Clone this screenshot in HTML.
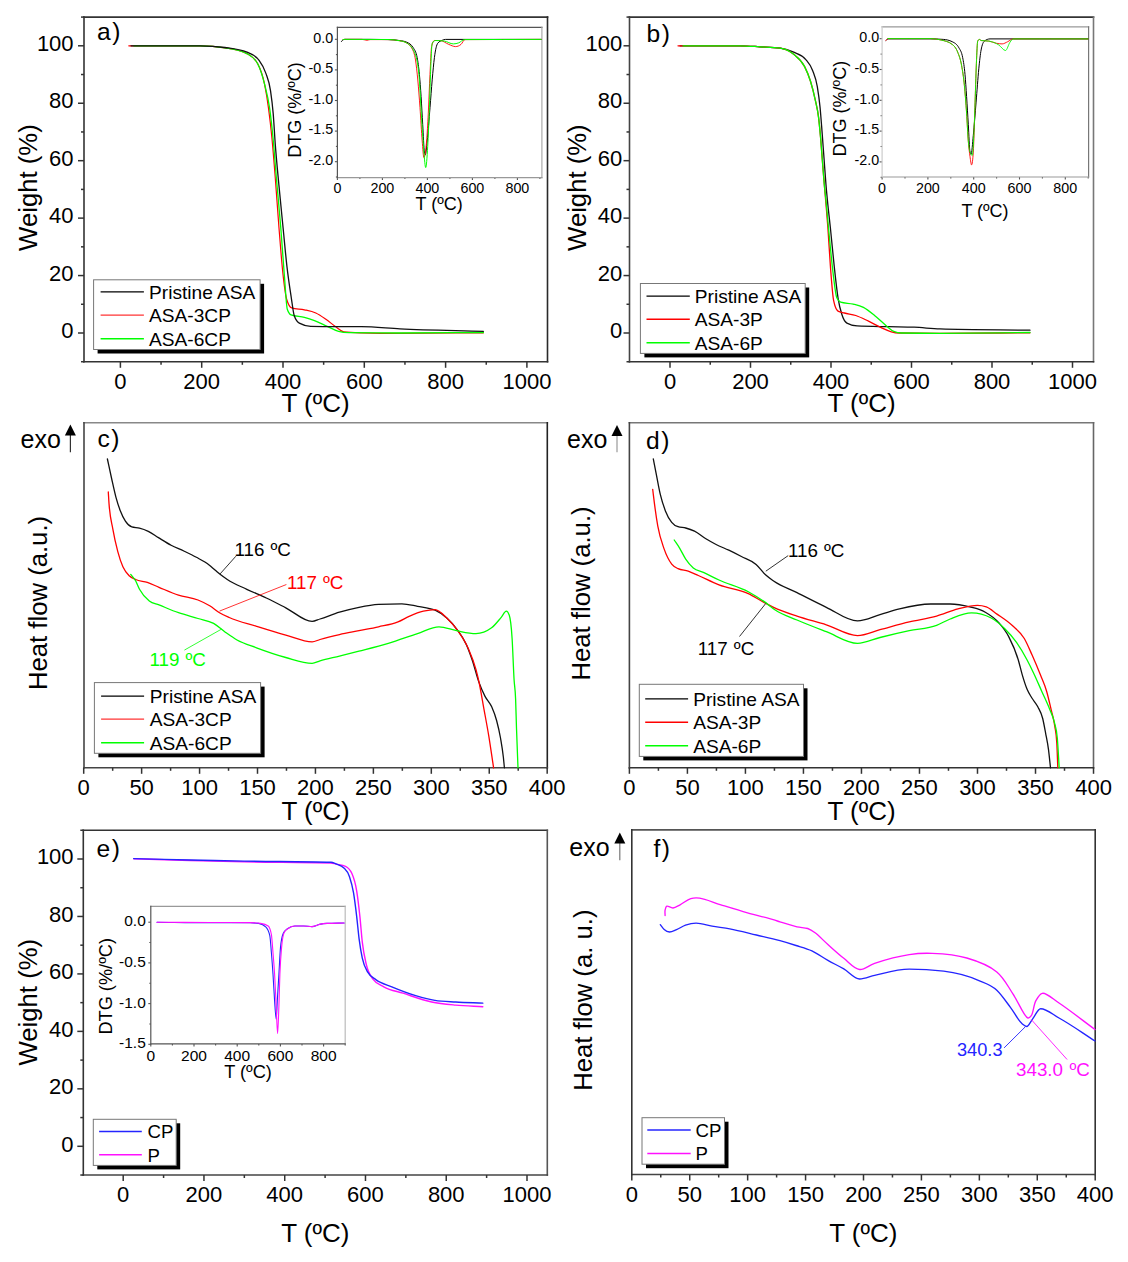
<!DOCTYPE html>
<html><head><meta charset="utf-8"><style>
html,body{margin:0;padding:0;background:#fff;}
svg{display:block;}
text{font-family:"Liberation Sans", sans-serif;}
</style></head><body>
<svg width="1128" height="1262" viewBox="0 0 1128 1262">
<rect width="1128" height="1262" fill="#fff"/>
<line x1="83.20" y1="17.10" x2="548.30" y2="17.10" stroke="#333" stroke-width="1.6"/>
<line x1="547.50" y1="16.30" x2="547.50" y2="362.60" stroke="#2a2a2a" stroke-width="1.6"/>
<line x1="83.20" y1="361.80" x2="548.30" y2="361.80" stroke="#333" stroke-width="1.6"/>
<line x1="84.00" y1="16.30" x2="84.00" y2="362.60" stroke="#333" stroke-width="1.6"/>
<line x1="120.40" y1="361.80" x2="120.40" y2="367.80" stroke="#333" stroke-width="1.5"/>
<text x="120.40" y="388.50" font-size="22" text-anchor="middle" fill="#000" >0</text>
<line x1="201.70" y1="361.80" x2="201.70" y2="367.80" stroke="#333" stroke-width="1.5"/>
<text x="201.70" y="388.50" font-size="22" text-anchor="middle" fill="#000" >200</text>
<line x1="283.00" y1="361.80" x2="283.00" y2="367.80" stroke="#333" stroke-width="1.5"/>
<text x="283.00" y="388.50" font-size="22" text-anchor="middle" fill="#000" >400</text>
<line x1="364.30" y1="361.80" x2="364.30" y2="367.80" stroke="#333" stroke-width="1.5"/>
<text x="364.30" y="388.50" font-size="22" text-anchor="middle" fill="#000" >600</text>
<line x1="445.60" y1="361.80" x2="445.60" y2="367.80" stroke="#333" stroke-width="1.5"/>
<text x="445.60" y="388.50" font-size="22" text-anchor="middle" fill="#000" >800</text>
<line x1="526.90" y1="361.80" x2="526.90" y2="367.80" stroke="#333" stroke-width="1.5"/>
<text x="526.90" y="388.50" font-size="22" text-anchor="middle" fill="#000" >1000</text>
<line x1="161.05" y1="361.80" x2="161.05" y2="364.80" stroke="#333" stroke-width="1.5"/>
<line x1="242.35" y1="361.80" x2="242.35" y2="364.80" stroke="#333" stroke-width="1.5"/>
<line x1="323.65" y1="361.80" x2="323.65" y2="364.80" stroke="#333" stroke-width="1.5"/>
<line x1="404.95" y1="361.80" x2="404.95" y2="364.80" stroke="#333" stroke-width="1.5"/>
<line x1="486.25" y1="361.80" x2="486.25" y2="364.80" stroke="#333" stroke-width="1.5"/>
<line x1="84.00" y1="333.00" x2="78.00" y2="333.00" stroke="#333" stroke-width="1.5"/>
<text x="73.60" y="338.20" font-size="22" text-anchor="end" fill="#000" >0</text>
<line x1="84.00" y1="275.56" x2="78.00" y2="275.56" stroke="#333" stroke-width="1.5"/>
<text x="73.60" y="280.76" font-size="22" text-anchor="end" fill="#000" >20</text>
<line x1="84.00" y1="218.12" x2="78.00" y2="218.12" stroke="#333" stroke-width="1.5"/>
<text x="73.60" y="223.32" font-size="22" text-anchor="end" fill="#000" >40</text>
<line x1="84.00" y1="160.68" x2="78.00" y2="160.68" stroke="#333" stroke-width="1.5"/>
<text x="73.60" y="165.88" font-size="22" text-anchor="end" fill="#000" >60</text>
<line x1="84.00" y1="103.24" x2="78.00" y2="103.24" stroke="#333" stroke-width="1.5"/>
<text x="73.60" y="108.44" font-size="22" text-anchor="end" fill="#000" >80</text>
<line x1="84.00" y1="45.80" x2="78.00" y2="45.80" stroke="#333" stroke-width="1.5"/>
<text x="73.60" y="51.00" font-size="22" text-anchor="end" fill="#000" >100</text>
<line x1="84.00" y1="361.72" x2="81.00" y2="361.72" stroke="#333" stroke-width="1.5"/>
<line x1="84.00" y1="304.28" x2="81.00" y2="304.28" stroke="#333" stroke-width="1.5"/>
<line x1="84.00" y1="246.84" x2="81.00" y2="246.84" stroke="#333" stroke-width="1.5"/>
<line x1="84.00" y1="189.40" x2="81.00" y2="189.40" stroke="#333" stroke-width="1.5"/>
<line x1="84.00" y1="131.96" x2="81.00" y2="131.96" stroke="#333" stroke-width="1.5"/>
<line x1="84.00" y1="74.52" x2="81.00" y2="74.52" stroke="#333" stroke-width="1.5"/>
<line x1="84.00" y1="17.08" x2="81.00" y2="17.08" stroke="#333" stroke-width="1.5"/>
<text x="37.40" y="187.60" font-size="25.7" text-anchor="middle" fill="#000" transform="rotate(-90 37.4 187.6)" >Weight (%)</text>
<text x="315.50" y="411.80" font-size="26" text-anchor="middle" fill="#000" >T (ºC)</text>
<text x="97.00" y="40.00" font-size="24.6" text-anchor="start" fill="#000" >a<tspan dx="1.5">)</tspan></text>
<line x1="337.40" y1="177.60" x2="337.40" y2="180.10" stroke="#555" stroke-width="1.1"/>
<text x="337.40" y="192.60" font-size="14.3" text-anchor="middle" fill="#000" >0</text>
<line x1="382.40" y1="177.60" x2="382.40" y2="180.10" stroke="#555" stroke-width="1.1"/>
<text x="382.40" y="192.60" font-size="14.3" text-anchor="middle" fill="#000" >200</text>
<line x1="427.40" y1="177.60" x2="427.40" y2="180.10" stroke="#555" stroke-width="1.1"/>
<text x="427.40" y="192.60" font-size="14.3" text-anchor="middle" fill="#000" >400</text>
<line x1="472.40" y1="177.60" x2="472.40" y2="180.10" stroke="#555" stroke-width="1.1"/>
<text x="472.40" y="192.60" font-size="14.3" text-anchor="middle" fill="#000" >600</text>
<line x1="517.40" y1="177.60" x2="517.40" y2="180.10" stroke="#555" stroke-width="1.1"/>
<text x="517.40" y="192.60" font-size="14.3" text-anchor="middle" fill="#000" >800</text>
<line x1="359.90" y1="177.60" x2="359.90" y2="179.10" stroke="#555" stroke-width="1.1"/>
<line x1="404.90" y1="177.60" x2="404.90" y2="179.10" stroke="#555" stroke-width="1.1"/>
<line x1="449.90" y1="177.60" x2="449.90" y2="179.10" stroke="#555" stroke-width="1.1"/>
<line x1="494.90" y1="177.60" x2="494.90" y2="179.10" stroke="#555" stroke-width="1.1"/>
<line x1="539.90" y1="177.60" x2="539.90" y2="179.10" stroke="#555" stroke-width="1.1"/>
<line x1="337.40" y1="39.30" x2="334.90" y2="39.30" stroke="#555" stroke-width="1.1"/>
<text x="333.20" y="42.50" font-size="14.3" text-anchor="end" fill="#000" >0.0</text>
<line x1="337.40" y1="69.90" x2="334.90" y2="69.90" stroke="#555" stroke-width="1.1"/>
<text x="333.20" y="73.10" font-size="14.3" text-anchor="end" fill="#000" >-0.5</text>
<line x1="337.40" y1="100.50" x2="334.90" y2="100.50" stroke="#555" stroke-width="1.1"/>
<text x="333.20" y="103.70" font-size="14.3" text-anchor="end" fill="#000" >-1.0</text>
<line x1="337.40" y1="131.10" x2="334.90" y2="131.10" stroke="#555" stroke-width="1.1"/>
<text x="333.20" y="134.30" font-size="14.3" text-anchor="end" fill="#000" >-1.5</text>
<line x1="337.40" y1="161.70" x2="334.90" y2="161.70" stroke="#555" stroke-width="1.1"/>
<text x="333.20" y="164.90" font-size="14.3" text-anchor="end" fill="#000" >-2.0</text>
<line x1="337.40" y1="54.60" x2="335.90" y2="54.60" stroke="#555" stroke-width="1.1"/>
<line x1="337.40" y1="85.20" x2="335.90" y2="85.20" stroke="#555" stroke-width="1.1"/>
<line x1="337.40" y1="115.80" x2="335.90" y2="115.80" stroke="#555" stroke-width="1.1"/>
<line x1="337.40" y1="146.40" x2="335.90" y2="146.40" stroke="#555" stroke-width="1.1"/>
<line x1="337.40" y1="177.00" x2="335.90" y2="177.00" stroke="#555" stroke-width="1.1"/>
<line x1="336.80" y1="27.40" x2="542.50" y2="27.40" stroke="#555" stroke-width="1.2"/>
<line x1="541.90" y1="26.80" x2="541.90" y2="178.20" stroke="#aaa" stroke-width="1.2"/>
<line x1="336.80" y1="177.60" x2="542.50" y2="177.60" stroke="#999" stroke-width="1.2"/>
<line x1="337.40" y1="26.80" x2="337.40" y2="178.20" stroke="#555" stroke-width="1.2"/>
<text x="301.00" y="110.00" font-size="18" text-anchor="middle" fill="#000" transform="rotate(-90 301 110)" >DTG (%/ºC)</text>
<text x="439.20" y="209.80" font-size="18" text-anchor="middle" fill="#000" >T (ºC)</text>
<rect x="97.60" y="283.80" width="166.50" height="69.70" fill="#000"/>
<rect x="93.60" y="279.80" width="166.50" height="69.70" fill="#fff" stroke="#777" stroke-width="1"/>
<line x1="100.60" y1="291.90" x2="143.90" y2="291.90" stroke="#000" stroke-width="1.2"/>
<text x="149.00" y="298.70" font-size="19.152" text-anchor="start" fill="#000" >Pristine ASA</text>
<line x1="100.60" y1="315.10" x2="143.90" y2="315.10" stroke="#ff0000" stroke-width="1.0"/>
<text x="149.00" y="321.90" font-size="19.152" text-anchor="start" fill="#000" >ASA-3CP</text>
<line x1="100.60" y1="338.70" x2="143.90" y2="338.70" stroke="#00ff00" stroke-width="1.6"/>
<text x="149.00" y="345.50" font-size="19.152" text-anchor="start" fill="#000" >ASA-6CP</text>
<path d="M128.80,45.80 C144.20,45.80 159.60,45.80 175.00,45.80 C183.33,45.80 191.67,45.83 200.00,45.90 C208.33,45.97 216.67,46.53 225.00,47.80 C232.33,48.91 239.67,49.73 247.00,53.60 C250.57,55.48 254.13,56.97 257.70,63.70 C259.97,67.98 262.23,72.74 264.50,83.90 C265.83,90.47 267.17,98.20 268.50,108.20 C269.63,116.70 270.77,126.13 271.90,137.80 C273.03,149.47 274.17,163.88 275.30,178.20 C276.53,193.79 277.77,212.48 279.00,228.00 C280.27,243.94 281.53,260.57 282.80,272.40 C284.07,284.23 285.33,294.58 286.60,299.00 C288.30,304.93 290.00,307.39 291.70,307.90 C295.93,309.17 300.17,308.87 304.40,309.80 C308.20,310.63 312.00,311.24 315.80,313.00 C319.17,314.56 322.53,316.98 325.90,319.30 C329.30,321.64 332.70,324.67 336.10,327.00 C338.63,328.73 341.17,331.49 343.70,331.80 C349.13,332.47 354.57,332.66 360.00,332.80 C373.33,333.13 386.67,333.30 400.00,333.30 C427.80,333.30 455.60,332.97 483.40,332.80" fill="none" stroke="#ff0000" stroke-width="1.2" stroke-linejoin="round" stroke-linecap="round" />
<path d="M133.80,45.80 C147.53,45.80 161.27,45.80 175.00,45.80 C183.33,45.80 191.67,45.83 200.00,45.90 C208.33,45.97 216.67,46.53 225.00,47.80 C232.33,48.91 239.67,49.73 247.00,53.60 C250.57,55.48 254.13,56.97 257.70,63.70 C259.97,67.98 262.23,74.84 264.50,83.90 C266.20,90.69 267.90,96.08 269.60,108.20 C270.73,116.28 271.87,126.13 273.00,137.80 C274.13,149.47 275.27,165.01 276.40,178.20 C277.87,195.27 279.33,209.79 280.80,228.00 C282.07,243.73 283.33,263.43 284.60,278.80 C285.50,289.72 286.40,306.50 287.30,309.20 C288.57,313.00 289.83,314.42 291.10,314.90 C295.53,316.57 299.97,316.24 304.40,317.40 C307.77,318.28 311.13,319.34 314.50,320.60 C318.73,322.19 322.97,324.40 327.20,326.30 C331.00,328.00 334.80,330.43 338.60,331.40 C342.00,332.27 345.40,332.66 348.80,332.70 C365.87,332.90 382.93,333.00 400.00,333.00 C427.80,333.00 455.60,332.67 483.40,332.50" fill="none" stroke="#00ff00" stroke-width="1.3" stroke-linejoin="round" stroke-linecap="round" />
<path d="M131.00,45.80 C145.67,45.80 160.33,45.80 175.00,45.80 C183.33,45.80 191.67,45.80 200.00,45.80 C208.33,45.80 216.67,46.37 225.00,47.50 C232.33,48.50 239.67,49.07 247.00,52.20 C251.03,53.92 255.07,54.90 259.10,60.30 C261.33,63.29 263.57,66.45 265.80,73.10 C267.37,77.76 268.93,80.00 270.50,90.60 C271.40,96.69 272.30,102.77 273.20,113.60 C273.90,122.02 274.60,135.18 275.30,144.60 C276.50,160.75 277.70,172.08 278.90,185.00 C280.30,200.08 281.70,213.82 283.10,228.00 C284.37,240.83 285.63,255.06 286.90,266.10 C288.37,278.89 289.83,288.21 291.30,297.80 C292.27,304.12 293.23,312.62 294.20,315.50 C295.90,320.57 297.60,322.15 299.30,323.10 C303.10,325.23 306.90,326.18 310.70,326.30 C319.17,326.57 327.63,326.70 336.10,326.70 C344.53,326.70 352.97,326.70 361.40,326.70 C374.27,326.70 387.13,328.28 400.00,328.90 C427.80,330.24 455.60,330.50 483.40,331.30" fill="none" stroke="#111" stroke-width="1.3" stroke-linejoin="round" stroke-linecap="round" />
<path d="M341.50,41.50 C342.00,40.93 342.50,40.02 343.00,39.80 C343.67,39.50 344.33,39.35 345.00,39.35 C353.33,39.35 361.67,39.35 370.00,39.35 C376.00,39.35 382.00,39.43 388.00,39.60 C392.00,39.71 396.00,39.93 400.00,40.60 C402.23,40.97 404.47,41.13 406.70,42.20 C408.90,43.25 411.10,44.07 413.30,47.80 C414.60,50.01 415.90,51.10 417.20,57.70 C417.93,61.42 418.67,66.57 419.40,74.40 C419.97,80.45 420.53,87.96 421.10,96.60 C421.63,104.73 422.17,115.33 422.70,124.30 C423.27,133.83 423.83,148.47 424.40,152.00 C424.70,153.87 425.00,154.80 425.30,154.80 C425.93,154.80 426.57,146.79 427.20,141.00 C428.13,132.47 429.07,119.19 430.00,107.70 C430.73,98.67 431.47,88.23 432.20,79.90 C432.93,71.57 433.67,63.42 434.40,57.70 C435.50,49.12 436.60,44.77 437.70,43.30 C439.20,41.30 440.70,40.96 442.20,40.30 C443.30,39.82 444.40,39.40 445.50,39.40 C477.33,39.40 509.17,39.40 541.00,39.40" fill="none" stroke="#000" stroke-width="1.0" stroke-linejoin="round" stroke-linecap="round" />
<path d="M343.00,39.60 C343.67,39.52 344.33,39.35 345.00,39.35 C350.67,39.35 356.33,39.35 362.00,39.35 C363.67,39.35 365.33,40.30 367.00,40.30 C368.00,40.30 369.00,39.60 370.00,39.60 C376.00,39.60 382.00,39.60 388.00,39.60 C392.00,39.60 396.00,40.00 400.00,40.80 C402.23,41.25 404.47,41.53 406.70,43.00 C408.53,44.20 410.37,44.97 412.20,48.90 C413.30,51.26 414.40,52.84 415.50,60.00 C416.27,64.99 417.03,71.81 417.80,80.00 C418.53,87.84 419.27,97.53 420.00,107.70 C420.73,117.87 421.47,132.12 422.20,141.00 C422.77,147.86 423.33,157.60 423.90,157.60 C424.80,157.60 425.70,152.07 426.60,141.00 C427.17,134.03 427.73,124.30 428.30,113.20 C428.87,102.10 429.43,85.74 430.00,74.40 C430.53,63.72 431.07,48.92 431.60,46.60 C432.53,42.53 433.47,40.50 434.40,40.50 C436.27,40.50 438.13,40.50 440.00,40.50 C442.93,40.50 445.87,43.29 448.80,44.40 C451.03,45.24 453.27,46.60 455.50,46.60 C457.33,46.60 459.17,45.87 461.00,44.40 C462.30,43.36 463.60,39.61 464.90,39.60 C490.27,39.47 515.63,39.47 541.00,39.40" fill="none" stroke="#ff0000" stroke-width="0.9" stroke-linejoin="round" stroke-linecap="round" />
<path d="M343.00,39.60 C343.67,39.52 344.33,39.35 345.00,39.35 C359.33,39.35 373.67,39.40 388.00,39.50 C392.00,39.53 396.00,39.93 400.00,40.80 C402.23,41.28 404.47,41.53 406.70,43.00 C409.27,44.69 411.83,46.07 414.40,52.20 C415.90,55.78 417.40,59.60 418.90,74.40 C419.80,83.28 420.70,104.98 421.60,118.80 C422.37,130.58 423.13,143.41 423.90,152.00 C424.50,158.72 425.10,167.60 425.70,167.60 C426.37,167.60 427.03,157.96 427.70,146.50 C428.27,136.76 428.83,123.20 429.40,107.70 C429.77,97.67 430.13,83.77 430.50,74.40 C431.07,59.91 431.63,44.26 432.20,43.30 C433.30,41.43 434.40,40.50 435.50,40.50 C438.47,40.50 441.43,40.70 444.40,41.10 C447.37,41.50 450.33,43.90 453.30,43.90 C455.13,43.90 456.97,43.50 458.80,42.80 C460.67,42.08 462.53,39.61 464.40,39.60 C489.93,39.47 515.47,39.47 541.00,39.40" fill="none" stroke="#00ff00" stroke-width="1.0" stroke-linejoin="round" stroke-linecap="round" />
<line x1="628.70" y1="17.10" x2="1094.30" y2="17.10" stroke="#333" stroke-width="1.6"/>
<line x1="1093.50" y1="16.30" x2="1093.50" y2="362.60" stroke="#777" stroke-width="1.6"/>
<line x1="628.70" y1="361.80" x2="1094.30" y2="361.80" stroke="#333" stroke-width="1.6"/>
<line x1="629.50" y1="16.30" x2="629.50" y2="362.60" stroke="#444" stroke-width="1.6"/>
<line x1="670.00" y1="361.80" x2="670.00" y2="367.80" stroke="#333" stroke-width="1.5"/>
<text x="670.00" y="388.50" font-size="22" text-anchor="middle" fill="#000" >0</text>
<line x1="750.50" y1="361.80" x2="750.50" y2="367.80" stroke="#333" stroke-width="1.5"/>
<text x="750.50" y="388.50" font-size="22" text-anchor="middle" fill="#000" >200</text>
<line x1="831.00" y1="361.80" x2="831.00" y2="367.80" stroke="#333" stroke-width="1.5"/>
<text x="831.00" y="388.50" font-size="22" text-anchor="middle" fill="#000" >400</text>
<line x1="911.50" y1="361.80" x2="911.50" y2="367.80" stroke="#333" stroke-width="1.5"/>
<text x="911.50" y="388.50" font-size="22" text-anchor="middle" fill="#000" >600</text>
<line x1="992.00" y1="361.80" x2="992.00" y2="367.80" stroke="#333" stroke-width="1.5"/>
<text x="992.00" y="388.50" font-size="22" text-anchor="middle" fill="#000" >800</text>
<line x1="1072.50" y1="361.80" x2="1072.50" y2="367.80" stroke="#333" stroke-width="1.5"/>
<text x="1072.50" y="388.50" font-size="22" text-anchor="middle" fill="#000" >1000</text>
<line x1="710.25" y1="361.80" x2="710.25" y2="364.80" stroke="#333" stroke-width="1.5"/>
<line x1="790.75" y1="361.80" x2="790.75" y2="364.80" stroke="#333" stroke-width="1.5"/>
<line x1="871.25" y1="361.80" x2="871.25" y2="364.80" stroke="#333" stroke-width="1.5"/>
<line x1="951.75" y1="361.80" x2="951.75" y2="364.80" stroke="#333" stroke-width="1.5"/>
<line x1="1032.25" y1="361.80" x2="1032.25" y2="364.80" stroke="#333" stroke-width="1.5"/>
<line x1="629.50" y1="333.00" x2="623.50" y2="333.00" stroke="#333" stroke-width="1.5"/>
<text x="622.20" y="338.20" font-size="22" text-anchor="end" fill="#000" >0</text>
<line x1="629.50" y1="275.56" x2="623.50" y2="275.56" stroke="#333" stroke-width="1.5"/>
<text x="622.20" y="280.76" font-size="22" text-anchor="end" fill="#000" >20</text>
<line x1="629.50" y1="218.12" x2="623.50" y2="218.12" stroke="#333" stroke-width="1.5"/>
<text x="622.20" y="223.32" font-size="22" text-anchor="end" fill="#000" >40</text>
<line x1="629.50" y1="160.68" x2="623.50" y2="160.68" stroke="#333" stroke-width="1.5"/>
<text x="622.20" y="165.88" font-size="22" text-anchor="end" fill="#000" >60</text>
<line x1="629.50" y1="103.24" x2="623.50" y2="103.24" stroke="#333" stroke-width="1.5"/>
<text x="622.20" y="108.44" font-size="22" text-anchor="end" fill="#000" >80</text>
<line x1="629.50" y1="45.80" x2="623.50" y2="45.80" stroke="#333" stroke-width="1.5"/>
<text x="622.20" y="51.00" font-size="22" text-anchor="end" fill="#000" >100</text>
<line x1="629.50" y1="361.72" x2="626.50" y2="361.72" stroke="#333" stroke-width="1.5"/>
<line x1="629.50" y1="304.28" x2="626.50" y2="304.28" stroke="#333" stroke-width="1.5"/>
<line x1="629.50" y1="246.84" x2="626.50" y2="246.84" stroke="#333" stroke-width="1.5"/>
<line x1="629.50" y1="189.40" x2="626.50" y2="189.40" stroke="#333" stroke-width="1.5"/>
<line x1="629.50" y1="131.96" x2="626.50" y2="131.96" stroke="#333" stroke-width="1.5"/>
<line x1="629.50" y1="74.52" x2="626.50" y2="74.52" stroke="#333" stroke-width="1.5"/>
<line x1="629.50" y1="17.08" x2="626.50" y2="17.08" stroke="#333" stroke-width="1.5"/>
<text x="585.60" y="187.60" font-size="25.7" text-anchor="middle" fill="#000" transform="rotate(-90 585.6 187.6)" >Weight (%)</text>
<text x="861.50" y="411.80" font-size="26" text-anchor="middle" fill="#000" >T (ºC)</text>
<text x="646.50" y="41.50" font-size="24.6" text-anchor="start" fill="#000" >b<tspan dx="1.5">)</tspan></text>
<line x1="882.10" y1="177.00" x2="882.10" y2="179.50" stroke="#555" stroke-width="1.1"/>
<text x="882.10" y="192.60" font-size="14.3" text-anchor="middle" fill="#000" >0</text>
<line x1="927.90" y1="177.00" x2="927.90" y2="179.50" stroke="#555" stroke-width="1.1"/>
<text x="927.90" y="192.60" font-size="14.3" text-anchor="middle" fill="#000" >200</text>
<line x1="973.70" y1="177.00" x2="973.70" y2="179.50" stroke="#555" stroke-width="1.1"/>
<text x="973.70" y="192.60" font-size="14.3" text-anchor="middle" fill="#000" >400</text>
<line x1="1019.50" y1="177.00" x2="1019.50" y2="179.50" stroke="#555" stroke-width="1.1"/>
<text x="1019.50" y="192.60" font-size="14.3" text-anchor="middle" fill="#000" >600</text>
<line x1="1065.30" y1="177.00" x2="1065.30" y2="179.50" stroke="#555" stroke-width="1.1"/>
<text x="1065.30" y="192.60" font-size="14.3" text-anchor="middle" fill="#000" >800</text>
<line x1="905.00" y1="177.00" x2="905.00" y2="178.50" stroke="#555" stroke-width="1.1"/>
<line x1="950.80" y1="177.00" x2="950.80" y2="178.50" stroke="#555" stroke-width="1.1"/>
<line x1="996.60" y1="177.00" x2="996.60" y2="178.50" stroke="#555" stroke-width="1.1"/>
<line x1="1042.40" y1="177.00" x2="1042.40" y2="178.50" stroke="#555" stroke-width="1.1"/>
<line x1="1088.20" y1="177.00" x2="1088.20" y2="178.50" stroke="#555" stroke-width="1.1"/>
<line x1="882.10" y1="38.70" x2="879.60" y2="38.70" stroke="#555" stroke-width="1.1"/>
<text x="879.20" y="41.90" font-size="14.3" text-anchor="end" fill="#000" >0.0</text>
<line x1="882.10" y1="69.50" x2="879.60" y2="69.50" stroke="#555" stroke-width="1.1"/>
<text x="879.20" y="72.70" font-size="14.3" text-anchor="end" fill="#000" >-0.5</text>
<line x1="882.10" y1="100.30" x2="879.60" y2="100.30" stroke="#555" stroke-width="1.1"/>
<text x="879.20" y="103.50" font-size="14.3" text-anchor="end" fill="#000" >-1.0</text>
<line x1="882.10" y1="131.10" x2="879.60" y2="131.10" stroke="#555" stroke-width="1.1"/>
<text x="879.20" y="134.30" font-size="14.3" text-anchor="end" fill="#000" >-1.5</text>
<line x1="882.10" y1="161.90" x2="879.60" y2="161.90" stroke="#555" stroke-width="1.1"/>
<text x="879.20" y="165.10" font-size="14.3" text-anchor="end" fill="#000" >-2.0</text>
<line x1="882.10" y1="54.10" x2="880.60" y2="54.10" stroke="#555" stroke-width="1.1"/>
<line x1="882.10" y1="84.90" x2="880.60" y2="84.90" stroke="#555" stroke-width="1.1"/>
<line x1="882.10" y1="115.70" x2="880.60" y2="115.70" stroke="#555" stroke-width="1.1"/>
<line x1="882.10" y1="146.50" x2="880.60" y2="146.50" stroke="#555" stroke-width="1.1"/>
<line x1="882.10" y1="177.30" x2="880.60" y2="177.30" stroke="#555" stroke-width="1.1"/>
<line x1="881.50" y1="26.90" x2="1089.20" y2="26.90" stroke="#999" stroke-width="1.2"/>
<line x1="1088.60" y1="26.30" x2="1088.60" y2="177.60" stroke="#777" stroke-width="1.2"/>
<line x1="881.50" y1="177.00" x2="1089.20" y2="177.00" stroke="#999" stroke-width="1.2"/>
<line x1="882.10" y1="26.30" x2="882.10" y2="177.60" stroke="#ccc" stroke-width="1.2"/>
<text x="845.90" y="108.60" font-size="18" text-anchor="middle" fill="#000" transform="rotate(-90 845.9 108.6)" >DTG (%/ºC)</text>
<text x="985.00" y="217.00" font-size="18" text-anchor="middle" fill="#000" >T (ºC)</text>
<rect x="644.40" y="287.50" width="164.80" height="69.90" fill="#000"/>
<rect x="640.40" y="283.50" width="164.80" height="69.90" fill="#fff" stroke="#777" stroke-width="1"/>
<line x1="646.50" y1="296.10" x2="689.80" y2="296.10" stroke="#000" stroke-width="1.2"/>
<text x="694.80" y="302.90" font-size="19.152" text-anchor="start" fill="#000" >Pristine ASA</text>
<line x1="646.50" y1="319.20" x2="689.80" y2="319.20" stroke="#ff0000" stroke-width="1.5"/>
<text x="694.80" y="326.00" font-size="19.152" text-anchor="start" fill="#000" >ASA-3P</text>
<line x1="646.50" y1="342.80" x2="689.80" y2="342.80" stroke="#00ff00" stroke-width="1.5"/>
<text x="694.80" y="349.60" font-size="19.152" text-anchor="start" fill="#000" >ASA-6P</text>
<path d="M680.00,45.80 C700.00,45.80 720.00,45.80 740.00,45.80 C746.67,45.80 753.33,46.40 760.00,46.80 C766.73,47.20 773.47,47.27 780.20,48.20 C784.70,48.82 789.20,50.12 793.70,52.20 C797.73,54.07 801.77,54.67 805.80,59.60 C808.07,62.37 810.33,64.31 812.60,70.40 C814.17,74.61 815.73,77.19 817.30,86.60 C818.20,92.01 819.10,97.65 820.00,106.80 C820.67,113.58 821.33,122.57 822.00,131.10 C822.67,139.63 823.33,149.02 824.00,158.00 C824.67,166.98 825.33,176.97 826.00,185.00 C826.73,193.84 827.47,200.83 828.20,208.00 C828.93,215.17 829.67,221.08 830.40,228.00 C831.67,239.95 832.93,254.47 834.20,266.10 C835.47,277.73 836.73,289.77 838.00,297.80 C839.27,305.83 840.53,310.22 841.80,314.30 C843.50,319.78 845.20,322.17 846.90,323.10 C850.30,324.97 853.70,325.73 857.10,325.90 C867.67,326.43 878.23,326.47 888.80,326.70 C897.23,326.89 905.67,326.87 914.10,327.20 C922.73,327.54 931.37,328.65 940.00,328.90 C970.00,329.77 1000.00,329.77 1030.00,330.20" fill="none" stroke="#111" stroke-width="1.3" stroke-linejoin="round" stroke-linecap="round" />
<path d="M678.00,45.80 C698.67,45.80 719.33,45.80 740.00,45.80 C746.67,45.80 753.33,46.40 760.00,46.80 C766.73,47.20 773.47,47.27 780.20,48.20 C784.70,48.82 789.20,50.60 793.70,54.30 C797.30,57.26 800.90,59.25 804.50,66.40 C806.50,70.37 808.50,74.63 810.50,81.20 C812.10,86.45 813.70,92.51 815.30,100.10 C816.40,105.32 817.50,108.48 818.60,117.60 C819.27,123.13 819.93,130.17 820.60,137.80 C821.30,145.81 822.00,156.07 822.70,164.80 C823.37,173.11 824.03,181.02 824.70,189.00 C825.23,195.39 825.77,201.50 826.30,208.00 C826.83,214.50 827.37,220.76 827.90,228.00 C828.73,239.31 829.57,255.06 830.40,266.10 C831.47,280.23 832.53,295.06 833.60,300.30 C835.07,307.50 836.53,310.23 838.00,311.10 C840.13,312.37 842.27,312.43 844.40,313.00 C848.20,314.02 852.00,314.25 855.80,315.50 C860.03,316.89 864.27,319.18 868.50,321.20 C872.73,323.22 876.97,325.67 881.20,327.60 C884.57,329.13 887.93,330.90 891.30,331.80 C893.83,332.48 896.37,332.96 898.90,333.00 C912.60,333.20 926.30,333.30 940.00,333.30 C970.00,333.30 1000.00,332.97 1030.00,332.80" fill="none" stroke="#ff0000" stroke-width="1.3" stroke-linejoin="round" stroke-linecap="round" />
<path d="M683.00,45.80 C702.00,45.80 721.00,45.80 740.00,45.80 C746.67,45.80 753.33,46.40 760.00,46.80 C766.73,47.20 773.47,47.27 780.20,48.20 C784.70,48.82 789.20,50.60 793.70,54.30 C797.30,57.26 800.90,59.25 804.50,66.40 C806.50,70.37 808.50,74.63 810.50,81.20 C812.10,86.45 813.70,92.51 815.30,100.10 C816.40,105.32 817.50,108.48 818.60,117.60 C819.27,123.13 819.93,130.17 820.60,137.80 C821.30,145.81 822.00,156.07 822.70,164.80 C823.37,173.11 824.03,182.68 824.70,189.00 C824.93,191.21 825.17,192.91 825.40,195.00 C826.43,204.25 827.47,217.33 828.50,228.00 C830.00,243.49 831.50,260.19 833.00,272.40 C834.27,282.71 835.53,294.87 836.80,297.80 C838.07,300.73 839.33,301.82 840.60,302.20 C844.83,303.47 849.07,303.07 853.30,304.10 C856.67,304.92 860.03,305.59 863.40,307.30 C867.63,309.45 871.87,313.32 876.10,316.80 C879.47,319.57 882.83,322.99 886.20,325.70 C888.73,327.74 891.27,330.33 893.80,331.40 C896.33,332.47 898.87,332.96 901.40,333.00 C914.27,333.20 927.13,333.30 940.00,333.30 C970.00,333.30 1000.00,332.77 1030.00,332.50" fill="none" stroke="#00ff00" stroke-width="1.3" stroke-linejoin="round" stroke-linecap="round" />
<path d="M886.00,40.50 C886.67,39.97 887.33,38.90 888.00,38.90 C902.00,38.90 916.00,38.90 930.00,38.90 C934.43,38.90 938.87,39.07 943.30,39.40 C946.27,39.62 949.23,40.17 952.20,41.70 C954.43,42.85 956.67,43.73 958.90,47.80 C960.17,50.11 961.43,51.10 962.70,57.70 C963.47,61.69 964.23,65.84 965.00,74.40 C965.53,80.35 966.07,88.57 966.60,96.60 C967.17,105.13 967.73,115.05 968.30,124.30 C968.87,133.55 969.43,149.83 970.00,152.10 C970.37,153.57 970.73,154.30 971.10,154.30 C971.83,154.30 972.57,142.77 973.30,135.40 C974.23,126.03 975.17,113.41 976.10,102.10 C977.00,91.19 977.90,77.88 978.80,68.80 C979.57,61.07 980.33,54.14 981.10,50.00 C982.20,44.07 983.30,41.96 984.40,41.10 C986.27,39.63 988.13,38.90 990.00,38.90 C1022.67,38.90 1055.33,38.90 1088.00,38.90" fill="none" stroke="#000" stroke-width="1.0" stroke-linejoin="round" stroke-linecap="round" />
<path d="M886.00,40.50 C886.67,39.87 887.33,38.60 888.00,38.60 C902.00,38.60 916.00,38.60 930.00,38.60 C933.70,38.60 937.40,39.07 941.10,40.00 C944.80,40.93 948.50,41.47 952.20,44.40 C954.03,45.85 955.87,47.46 957.70,52.20 C959.00,55.56 960.30,58.24 961.60,65.50 C962.53,70.71 963.47,75.99 964.40,85.50 C965.13,92.98 965.87,102.41 966.60,113.20 C967.17,121.54 967.73,133.78 968.30,141.00 C968.87,148.22 969.43,152.46 970.00,156.50 C970.53,160.30 971.07,164.90 971.60,164.90 C972.17,164.90 972.73,160.63 973.30,152.10 C973.83,144.07 974.37,123.01 974.90,107.70 C975.40,93.35 975.90,74.75 976.40,63.30 C976.83,53.38 977.27,41.97 977.70,41.10 C978.27,39.97 978.83,39.40 979.40,39.40 C979.97,39.40 980.53,40.41 981.10,40.50 C983.67,40.90 986.23,40.70 988.80,41.10 C991.40,41.51 994.00,42.83 996.60,43.30 C998.43,43.63 1000.27,43.90 1002.10,43.90 C1003.97,43.90 1005.83,42.54 1007.70,41.70 C1009.53,40.87 1011.37,38.90 1013.20,38.90 C1038.13,38.90 1063.07,38.90 1088.00,38.90" fill="none" stroke="#ff0000" stroke-width="0.9" stroke-linejoin="round" stroke-linecap="round" />
<path d="M888.00,38.60 C902.00,38.60 916.00,38.60 930.00,38.60 C933.70,38.60 937.40,39.07 941.10,40.00 C944.80,40.93 948.50,41.47 952.20,44.40 C954.03,45.85 955.87,47.46 957.70,52.20 C959.00,55.56 960.30,58.24 961.60,65.50 C962.53,70.71 963.47,75.99 964.40,85.50 C965.13,92.98 965.87,102.41 966.60,113.20 C967.17,121.54 967.73,134.53 968.30,141.00 C968.87,147.47 969.43,150.25 970.00,152.00 C970.73,154.27 971.47,155.40 972.20,155.40 C972.67,155.40 973.13,148.48 973.60,140.00 C974.03,132.12 974.47,119.42 974.90,107.70 C975.40,94.17 975.90,74.75 976.40,63.30 C976.83,53.38 977.27,41.97 977.70,41.10 C978.27,39.97 978.83,39.40 979.40,39.40 C979.97,39.40 980.53,40.41 981.10,40.50 C983.67,40.90 986.23,40.70 988.80,41.10 C992.13,41.62 995.47,42.84 998.80,45.00 C1001.03,46.45 1003.27,50.50 1005.50,50.50 C1007.00,50.50 1008.50,44.25 1010.00,42.20 C1011.07,40.74 1012.13,38.90 1013.20,38.90 C1038.13,38.90 1063.07,38.90 1088.00,38.90" fill="none" stroke="#00ff00" stroke-width="0.9" stroke-linejoin="round" stroke-linecap="round" />
<line x1="83.20" y1="422.80" x2="548.10" y2="422.80" stroke="#888" stroke-width="1.6"/>
<line x1="547.30" y1="422.00" x2="547.30" y2="768.60" stroke="#222" stroke-width="1.6"/>
<line x1="83.20" y1="767.80" x2="548.10" y2="767.80" stroke="#444" stroke-width="1.6"/>
<line x1="84.00" y1="422.00" x2="84.00" y2="768.60" stroke="#444" stroke-width="1.6"/>
<line x1="83.70" y1="767.80" x2="83.70" y2="773.80" stroke="#333" stroke-width="1.5"/>
<text x="83.70" y="794.80" font-size="22" text-anchor="middle" fill="#000" >0</text>
<line x1="141.63" y1="767.80" x2="141.63" y2="773.80" stroke="#333" stroke-width="1.5"/>
<text x="141.63" y="794.80" font-size="22" text-anchor="middle" fill="#000" >50</text>
<line x1="199.57" y1="767.80" x2="199.57" y2="773.80" stroke="#333" stroke-width="1.5"/>
<text x="199.57" y="794.80" font-size="22" text-anchor="middle" fill="#000" >100</text>
<line x1="257.50" y1="767.80" x2="257.50" y2="773.80" stroke="#333" stroke-width="1.5"/>
<text x="257.50" y="794.80" font-size="22" text-anchor="middle" fill="#000" >150</text>
<line x1="315.44" y1="767.80" x2="315.44" y2="773.80" stroke="#333" stroke-width="1.5"/>
<text x="315.44" y="794.80" font-size="22" text-anchor="middle" fill="#000" >200</text>
<line x1="373.38" y1="767.80" x2="373.38" y2="773.80" stroke="#333" stroke-width="1.5"/>
<text x="373.38" y="794.80" font-size="22" text-anchor="middle" fill="#000" >250</text>
<line x1="431.31" y1="767.80" x2="431.31" y2="773.80" stroke="#333" stroke-width="1.5"/>
<text x="431.31" y="794.80" font-size="22" text-anchor="middle" fill="#000" >300</text>
<line x1="489.25" y1="767.80" x2="489.25" y2="773.80" stroke="#333" stroke-width="1.5"/>
<text x="489.25" y="794.80" font-size="22" text-anchor="middle" fill="#000" >350</text>
<line x1="547.18" y1="767.80" x2="547.18" y2="773.80" stroke="#333" stroke-width="1.5"/>
<text x="547.18" y="794.80" font-size="22" text-anchor="middle" fill="#000" >400</text>
<line x1="112.67" y1="767.80" x2="112.67" y2="770.80" stroke="#333" stroke-width="1.5"/>
<line x1="170.60" y1="767.80" x2="170.60" y2="770.80" stroke="#333" stroke-width="1.5"/>
<line x1="228.54" y1="767.80" x2="228.54" y2="770.80" stroke="#333" stroke-width="1.5"/>
<line x1="286.47" y1="767.80" x2="286.47" y2="770.80" stroke="#333" stroke-width="1.5"/>
<line x1="344.41" y1="767.80" x2="344.41" y2="770.80" stroke="#333" stroke-width="1.5"/>
<line x1="402.34" y1="767.80" x2="402.34" y2="770.80" stroke="#333" stroke-width="1.5"/>
<line x1="460.28" y1="767.80" x2="460.28" y2="770.80" stroke="#333" stroke-width="1.5"/>
<line x1="518.21" y1="767.80" x2="518.21" y2="770.80" stroke="#333" stroke-width="1.5"/>
<text x="46.50" y="603.00" font-size="25.7" text-anchor="middle" fill="#000" transform="rotate(-90 46.5 603)" >Heat flow (a.u.)</text>
<text x="315.50" y="820.30" font-size="26" text-anchor="middle" fill="#000" >T (ºC)</text>
<text x="97.50" y="447.20" font-size="24.6" text-anchor="start" fill="#000" >c<tspan dx="1.5">)</tspan></text>
<text x="20.50" y="447.90" font-size="25" text-anchor="start" fill="#000" >exo</text>
<line x1="70.40" y1="452.20" x2="70.40" y2="432.60" stroke="#333" stroke-width="1.2"/>
<polygon points="70.40,424.60 64.90,435.60 75.90,435.60" fill="#000"/>
<rect x="98.40" y="686.60" width="166.20" height="70.70" fill="#000"/>
<rect x="94.40" y="682.60" width="166.20" height="70.70" fill="#fff" stroke="#777" stroke-width="1"/>
<line x1="101.10" y1="696.10" x2="144.10" y2="696.10" stroke="#000" stroke-width="1.2"/>
<text x="149.80" y="702.90" font-size="19.152" text-anchor="start" fill="#000" >Pristine ASA</text>
<line x1="101.10" y1="719.10" x2="144.10" y2="719.10" stroke="#ff0000" stroke-width="1.0"/>
<text x="149.80" y="725.90" font-size="19.152" text-anchor="start" fill="#000" >ASA-3CP</text>
<line x1="101.10" y1="742.70" x2="144.10" y2="742.70" stroke="#00ff00" stroke-width="1.5"/>
<text x="149.80" y="749.50" font-size="19.152" text-anchor="start" fill="#000" >ASA-6CP</text>
<path d="M107.40,459.00 C108.77,465.33 110.13,471.86 111.50,478.00 C112.97,484.59 114.43,491.64 115.90,497.10 C117.40,502.68 118.90,507.11 120.40,511.00 C122.07,515.32 123.73,518.64 125.40,521.20 C127.53,524.48 129.67,526.23 131.80,526.90 C134.33,527.70 136.87,527.46 139.40,528.10 C142.37,528.84 145.33,529.87 148.30,531.30 C151.67,532.93 155.03,535.54 158.40,537.60 C162.63,540.19 166.87,542.97 171.10,545.20 C175.33,547.43 179.57,548.97 183.80,551.00 C188.00,553.01 192.20,554.99 196.40,557.30 C200.63,559.62 204.87,561.60 209.10,564.90 C211.07,566.43 213.03,568.31 215.00,570.00 C216.80,571.54 218.60,573.18 220.40,574.60 C222.70,576.42 225.00,577.99 227.30,579.50 C233.80,583.76 240.30,586.22 246.80,589.30 C253.30,592.38 259.80,594.92 266.30,598.00 C272.80,601.08 279.30,604.49 285.80,607.80 C294.57,612.26 303.33,621.40 312.10,621.40 C314.73,621.40 317.37,619.83 320.00,619.00 C326.50,616.94 333.00,614.15 339.50,612.20 C346.00,610.25 352.50,608.60 359.00,607.30 C365.50,606.00 372.00,604.73 378.50,604.40 C386.30,604.00 394.10,603.80 401.90,603.80 C407.10,603.80 412.30,605.32 417.50,606.30 C423.37,607.41 429.23,607.60 435.10,610.20 C439.00,611.93 442.90,614.45 446.80,618.00 C450.03,620.95 453.27,624.43 456.50,628.80 C459.77,633.21 463.03,637.05 466.30,644.40 C468.27,648.82 470.23,654.21 472.20,660.00 C474.47,666.68 476.73,676.11 479.00,682.40 C480.97,687.85 482.93,692.22 484.90,696.10 C487.17,700.58 489.43,701.62 491.70,706.80 C493.33,710.53 494.97,714.40 496.60,720.50 C497.90,725.36 499.20,730.50 500.50,738.00 C501.47,743.58 502.43,748.43 503.40,757.50 C503.73,760.63 504.07,764.37 504.40,767.80" fill="none" stroke="#111" stroke-width="1.3" stroke-linejoin="round" stroke-linecap="round" />
<path d="M108.30,492.00 C108.53,495.80 108.77,500.28 109.00,503.40 C110.27,520.33 111.53,521.50 112.80,528.80 C114.47,538.41 116.13,545.30 117.80,551.60 C119.50,558.02 121.20,562.93 122.90,566.80 C125.00,571.59 127.10,573.59 129.20,575.70 C131.33,577.85 133.47,578.49 135.60,579.50 C139.50,581.34 143.40,581.10 147.30,582.40 C151.20,583.70 155.10,585.69 159.00,587.30 C165.50,589.98 172.00,592.98 178.50,595.10 C185.00,597.22 191.50,597.37 198.00,600.00 C201.90,601.58 205.80,603.42 209.70,605.80 C212.97,607.79 216.23,610.74 219.50,612.70 C222.73,614.64 225.97,616.05 229.20,617.50 C238.30,621.59 247.40,623.46 256.50,626.30 C266.27,629.34 276.03,632.38 285.80,635.10 C294.57,637.54 303.33,641.90 312.10,641.90 C314.73,641.90 317.37,640.26 320.00,639.50 C326.50,637.62 333.00,636.07 339.50,634.60 C346.00,633.13 352.50,632.00 359.00,630.70 C365.50,629.40 372.00,628.27 378.50,626.80 C385.00,625.33 391.50,624.53 398.00,621.90 C401.90,620.32 405.80,617.79 409.70,616.10 C414.27,614.13 418.83,612.29 423.40,611.20 C427.30,610.27 431.20,609.60 435.10,609.60 C439.00,609.60 442.90,614.32 446.80,618.00 C450.70,621.68 454.60,625.98 458.50,631.70 C461.73,636.44 464.97,640.92 468.20,648.30 C470.80,654.24 473.40,660.02 476.00,669.70 C477.00,673.42 478.00,677.38 479.00,682.00 C480.63,689.55 482.27,699.78 483.90,708.80 C485.53,717.82 487.17,726.15 488.80,736.10 C490.40,745.85 492.00,757.23 493.60,767.80" fill="none" stroke="#ff0000" stroke-width="1.3" stroke-linejoin="round" stroke-linecap="round" />
<path d="M130.70,574.40 C132.33,576.53 133.97,577.87 135.60,580.80 C136.90,583.13 138.20,586.83 139.50,589.30 C142.77,595.50 146.03,598.40 149.30,601.00 C152.53,603.57 155.77,603.60 159.00,604.90 C165.50,607.51 172.00,610.43 178.50,612.70 C185.00,614.97 191.50,616.51 198.00,618.50 C203.20,620.09 208.40,620.47 213.60,623.40 C217.50,625.60 221.40,629.43 225.30,632.20 C229.20,634.97 233.10,637.79 237.00,640.00 C243.50,643.68 250.00,645.38 256.50,647.80 C266.27,651.44 276.03,654.82 285.80,657.50 C294.57,659.91 303.33,663.40 312.10,663.40 C314.73,663.40 317.37,661.68 320.00,660.90 C326.50,658.97 333.00,657.72 339.50,656.10 C346.00,654.48 352.50,652.87 359.00,651.20 C368.77,648.69 378.53,646.34 388.30,643.40 C398.03,640.47 407.77,636.76 417.50,633.60 C424.67,631.27 431.83,626.80 439.00,626.80 C444.83,626.80 450.67,629.60 456.50,630.70 C463.00,631.92 469.50,633.60 476.00,633.60 C481.20,633.60 486.40,631.67 491.60,627.80 C494.87,625.37 498.13,620.91 501.40,617.10 C503.03,615.19 504.67,611.20 506.30,611.20 C507.27,611.20 508.23,612.50 509.20,615.10 C510.17,617.70 511.13,623.45 512.10,638.50 C512.77,648.88 513.43,669.25 514.10,680.00 C514.60,688.07 515.10,686.45 515.60,699.00 C515.90,706.53 516.20,719.23 516.50,728.30 C517.00,743.41 517.50,754.63 518.00,767.80" fill="none" stroke="#00ff00" stroke-width="1.3" stroke-linejoin="round" stroke-linecap="round" />
<line x1="220.00" y1="574.00" x2="235.90" y2="556.20" stroke="#333" stroke-width="1.0"/>
<line x1="219.50" y1="611.10" x2="286.40" y2="584.50" stroke="#ff0000" stroke-width="0.8"/>
<line x1="221.40" y1="629.20" x2="184.40" y2="650.10" stroke="#00ff00" stroke-width="0.8"/>
<text x="234.50" y="556.00" font-size="18.8" text-anchor="start" fill="#000" >116 <tspan dx="0.8">º</tspan>C</text>
<text x="287.00" y="588.50" font-size="18.8" text-anchor="start" fill="#ff0000" >117 <tspan dx="0.8">º</tspan>C</text>
<text x="149.50" y="666.30" font-size="18.8" text-anchor="start" fill="#00ff00" >119 <tspan dx="0.8">º</tspan>C</text>
<line x1="628.60" y1="422.80" x2="1094.30" y2="422.80" stroke="#777" stroke-width="1.6"/>
<line x1="1093.50" y1="422.00" x2="1093.50" y2="768.60" stroke="#666" stroke-width="1.6"/>
<line x1="628.60" y1="767.80" x2="1094.30" y2="767.80" stroke="#333" stroke-width="1.6"/>
<line x1="629.40" y1="422.00" x2="629.40" y2="768.60" stroke="#444" stroke-width="1.6"/>
<line x1="629.40" y1="767.80" x2="629.40" y2="773.80" stroke="#333" stroke-width="1.5"/>
<text x="629.40" y="794.80" font-size="22" text-anchor="middle" fill="#000" >0</text>
<line x1="687.41" y1="767.80" x2="687.41" y2="773.80" stroke="#333" stroke-width="1.5"/>
<text x="687.41" y="794.80" font-size="22" text-anchor="middle" fill="#000" >50</text>
<line x1="745.43" y1="767.80" x2="745.43" y2="773.80" stroke="#333" stroke-width="1.5"/>
<text x="745.43" y="794.80" font-size="22" text-anchor="middle" fill="#000" >100</text>
<line x1="803.44" y1="767.80" x2="803.44" y2="773.80" stroke="#333" stroke-width="1.5"/>
<text x="803.44" y="794.80" font-size="22" text-anchor="middle" fill="#000" >150</text>
<line x1="861.46" y1="767.80" x2="861.46" y2="773.80" stroke="#333" stroke-width="1.5"/>
<text x="861.46" y="794.80" font-size="22" text-anchor="middle" fill="#000" >200</text>
<line x1="919.48" y1="767.80" x2="919.48" y2="773.80" stroke="#333" stroke-width="1.5"/>
<text x="919.48" y="794.80" font-size="22" text-anchor="middle" fill="#000" >250</text>
<line x1="977.49" y1="767.80" x2="977.49" y2="773.80" stroke="#333" stroke-width="1.5"/>
<text x="977.49" y="794.80" font-size="22" text-anchor="middle" fill="#000" >300</text>
<line x1="1035.51" y1="767.80" x2="1035.51" y2="773.80" stroke="#333" stroke-width="1.5"/>
<text x="1035.51" y="794.80" font-size="22" text-anchor="middle" fill="#000" >350</text>
<line x1="1093.52" y1="767.80" x2="1093.52" y2="773.80" stroke="#333" stroke-width="1.5"/>
<text x="1093.52" y="794.80" font-size="22" text-anchor="middle" fill="#000" >400</text>
<line x1="658.41" y1="767.80" x2="658.41" y2="770.80" stroke="#333" stroke-width="1.5"/>
<line x1="716.42" y1="767.80" x2="716.42" y2="770.80" stroke="#333" stroke-width="1.5"/>
<line x1="774.44" y1="767.80" x2="774.44" y2="770.80" stroke="#333" stroke-width="1.5"/>
<line x1="832.45" y1="767.80" x2="832.45" y2="770.80" stroke="#333" stroke-width="1.5"/>
<line x1="890.47" y1="767.80" x2="890.47" y2="770.80" stroke="#333" stroke-width="1.5"/>
<line x1="948.48" y1="767.80" x2="948.48" y2="770.80" stroke="#333" stroke-width="1.5"/>
<line x1="1006.50" y1="767.80" x2="1006.50" y2="770.80" stroke="#333" stroke-width="1.5"/>
<line x1="1064.51" y1="767.80" x2="1064.51" y2="770.80" stroke="#333" stroke-width="1.5"/>
<text x="590.00" y="593.50" font-size="25.7" text-anchor="middle" fill="#000" transform="rotate(-90 590.0 593.5)" >Heat flow (a.u.)</text>
<text x="861.50" y="820.30" font-size="26" text-anchor="middle" fill="#000" >T (ºC)</text>
<text x="646.00" y="448.70" font-size="24.6" text-anchor="start" fill="#000" >d<tspan dx="1.5">)</tspan></text>
<text x="567.00" y="447.90" font-size="25" text-anchor="start" fill="#000" >exo</text>
<line x1="617.00" y1="452.20" x2="617.00" y2="432.90" stroke="#999" stroke-width="1.2"/>
<polygon points="617.00,424.90 611.50,435.90 622.50,435.90" fill="#000"/>
<rect x="643.30" y="688.30" width="164.20" height="72.10" fill="#000"/>
<rect x="639.30" y="684.30" width="164.20" height="72.10" fill="#fff" stroke="#777" stroke-width="1"/>
<line x1="645.20" y1="698.90" x2="688.10" y2="698.90" stroke="#000" stroke-width="1.2"/>
<text x="693.20" y="705.70" font-size="19.152" text-anchor="start" fill="#000" >Pristine ASA</text>
<line x1="645.20" y1="722.20" x2="688.10" y2="722.20" stroke="#ff0000" stroke-width="1.4"/>
<text x="693.20" y="729.00" font-size="19.152" text-anchor="start" fill="#000" >ASA-3P</text>
<line x1="645.20" y1="745.70" x2="688.10" y2="745.70" stroke="#00ff00" stroke-width="1.4"/>
<text x="693.20" y="752.50" font-size="19.152" text-anchor="start" fill="#000" >ASA-6P</text>
<path d="M653.30,458.90 C654.37,464.40 655.43,469.98 656.50,475.40 C657.77,481.84 659.03,489.02 660.30,494.40 C662.00,501.62 663.70,506.48 665.40,510.90 C667.50,516.35 669.60,519.67 671.70,522.30 C673.80,524.93 675.90,525.99 678.00,526.70 C680.57,527.57 683.13,527.33 685.70,528.00 C688.63,528.76 691.57,529.75 694.50,531.20 C698.30,533.08 702.10,536.48 705.90,538.80 C709.30,540.87 712.70,542.77 716.10,544.50 C720.33,546.66 724.57,548.19 728.80,550.20 C733.00,552.19 737.20,554.33 741.40,556.50 C746.30,559.03 751.20,560.10 756.10,564.40 C759.33,567.24 762.57,572.15 765.80,575.10 C768.40,577.47 771.00,579.20 773.60,581.00 C781.40,586.40 789.20,588.81 797.00,592.70 C806.77,597.58 816.53,602.73 826.30,607.30 C836.70,612.17 847.10,620.90 857.50,620.90 C865.00,620.90 872.50,616.85 880.00,614.70 C886.50,612.83 893.00,610.48 899.50,608.90 C909.90,606.37 920.30,604.00 930.70,604.00 C937.20,604.00 943.70,604.00 950.20,604.00 C956.70,604.00 963.20,605.24 969.70,606.90 C974.90,608.23 980.10,609.21 985.30,612.20 C989.87,614.82 994.43,617.65 999.00,622.90 C1002.23,626.62 1005.47,630.37 1008.70,636.60 C1011.90,642.77 1015.10,649.23 1018.30,660.00 C1019.60,664.38 1020.90,670.16 1022.20,674.60 C1023.83,680.18 1025.47,685.38 1027.10,689.30 C1028.70,693.14 1030.30,695.33 1031.90,698.00 C1033.87,701.28 1035.83,702.90 1037.80,706.80 C1039.43,710.04 1041.07,711.88 1042.70,718.50 C1043.67,722.42 1044.63,727.90 1045.60,733.10 C1046.57,738.30 1047.53,742.26 1048.50,749.70 C1049.17,754.83 1049.83,761.77 1050.50,767.80" fill="none" stroke="#111" stroke-width="1.3" stroke-linejoin="round" stroke-linecap="round" />
<path d="M652.70,489.30 C652.90,491.00 653.10,492.73 653.30,494.40 C654.80,506.89 656.30,517.67 657.80,526.10 C659.90,537.90 662.00,542.84 664.10,548.90 C666.63,556.21 669.17,560.81 671.70,564.10 C673.80,566.82 675.90,567.57 678.00,568.60 C681.40,570.27 684.80,569.94 688.20,571.10 C691.57,572.25 694.93,574.01 698.30,575.50 C705.20,578.55 712.10,582.22 719.00,584.90 C728.77,588.70 738.53,589.00 748.30,593.60 C753.50,596.05 758.70,599.66 763.90,602.40 C767.13,604.11 770.37,605.79 773.60,607.30 C781.40,610.95 789.20,613.44 797.00,616.10 C806.77,619.43 816.53,621.67 826.30,624.80 C836.70,628.14 847.10,635.60 857.50,635.60 C865.00,635.60 872.50,631.68 880.00,629.70 C889.77,627.12 899.53,624.23 909.30,621.90 C918.40,619.73 927.50,618.67 936.60,616.10 C943.73,614.09 950.87,610.71 958.00,608.90 C964.50,607.25 971.00,605.40 977.50,605.40 C980.43,605.40 983.37,605.90 986.30,606.90 C989.87,608.12 993.43,611.59 997.00,614.10 C1002.20,617.76 1007.40,620.90 1012.60,625.80 C1016.50,629.47 1020.40,631.83 1024.30,638.50 C1026.90,642.95 1029.50,649.25 1032.10,655.10 C1034.97,661.55 1037.83,668.32 1040.70,675.60 C1042.67,680.59 1044.63,684.46 1046.60,691.20 C1048.20,696.68 1049.80,703.71 1051.40,710.70 C1052.53,715.65 1053.67,718.45 1054.80,726.30 C1055.47,730.92 1056.13,731.83 1056.80,742.90 C1057.13,748.43 1057.47,759.50 1057.80,767.80" fill="none" stroke="#ff0000" stroke-width="1.3" stroke-linejoin="round" stroke-linecap="round" />
<path d="M674.20,540.00 C675.90,542.53 677.60,544.84 679.30,547.60 C681.43,551.07 683.57,555.89 685.70,559.10 C688.23,562.91 690.77,565.74 693.30,567.90 C696.67,570.77 700.03,570.84 703.40,572.40 C708.60,574.80 713.80,577.63 719.00,580.00 C728.77,584.46 738.53,586.38 748.30,591.70 C753.50,594.53 758.70,597.78 763.90,601.40 C767.80,604.12 771.70,607.67 775.60,610.20 C782.73,614.82 789.87,616.91 797.00,620.00 C806.77,624.23 816.53,627.92 826.30,631.70 C836.70,635.73 847.10,643.40 857.50,643.40 C865.00,643.40 872.50,639.37 880.00,637.50 C889.77,635.07 899.53,632.79 909.30,630.70 C918.40,628.75 927.50,628.71 936.60,625.30 C941.13,623.60 945.67,620.79 950.20,619.00 C957.30,616.20 964.40,612.90 971.50,612.90 C978.07,612.90 984.63,614.60 991.20,618.00 C995.73,620.35 1000.27,624.30 1004.80,628.80 C1008.70,632.67 1012.60,636.85 1016.50,642.40 C1020.03,647.43 1023.57,653.37 1027.10,660.00 C1029.37,664.25 1031.63,668.89 1033.90,673.70 C1036.50,679.22 1039.10,685.35 1041.70,691.20 C1044.30,697.05 1046.90,702.10 1049.50,708.80 C1051.13,713.01 1052.77,715.19 1054.40,722.40 C1055.37,726.66 1056.33,727.60 1057.30,738.00 C1057.93,744.81 1058.57,757.87 1059.20,767.80" fill="none" stroke="#00ff00" stroke-width="1.3" stroke-linejoin="round" stroke-linecap="round" />
<line x1="765.80" y1="571.20" x2="788.20" y2="555.60" stroke="#333" stroke-width="1.0"/>
<line x1="765.80" y1="603.40" x2="739.50" y2="636.50" stroke="#333" stroke-width="1.0"/>
<text x="788.00" y="556.60" font-size="18.8" text-anchor="start" fill="#000" >116 <tspan dx="0.8">º</tspan>C</text>
<text x="697.80" y="654.70" font-size="18.8" text-anchor="start" fill="#000" >117 <tspan dx="0.8">º</tspan>C</text>
<line x1="82.50" y1="830.30" x2="548.10" y2="830.30" stroke="#333" stroke-width="1.6"/>
<line x1="547.30" y1="829.50" x2="547.30" y2="1175.80" stroke="#555" stroke-width="1.6"/>
<line x1="82.50" y1="1175.00" x2="548.10" y2="1175.00" stroke="#444" stroke-width="1.6"/>
<line x1="83.30" y1="829.50" x2="83.30" y2="1175.80" stroke="#333" stroke-width="1.6"/>
<line x1="123.20" y1="1175.00" x2="123.20" y2="1181.00" stroke="#333" stroke-width="1.5"/>
<text x="123.20" y="1201.60" font-size="22" text-anchor="middle" fill="#000" >0</text>
<line x1="203.96" y1="1175.00" x2="203.96" y2="1181.00" stroke="#333" stroke-width="1.5"/>
<text x="203.96" y="1201.60" font-size="22" text-anchor="middle" fill="#000" >200</text>
<line x1="284.72" y1="1175.00" x2="284.72" y2="1181.00" stroke="#333" stroke-width="1.5"/>
<text x="284.72" y="1201.60" font-size="22" text-anchor="middle" fill="#000" >400</text>
<line x1="365.48" y1="1175.00" x2="365.48" y2="1181.00" stroke="#333" stroke-width="1.5"/>
<text x="365.48" y="1201.60" font-size="22" text-anchor="middle" fill="#000" >600</text>
<line x1="446.24" y1="1175.00" x2="446.24" y2="1181.00" stroke="#333" stroke-width="1.5"/>
<text x="446.24" y="1201.60" font-size="22" text-anchor="middle" fill="#000" >800</text>
<line x1="527.00" y1="1175.00" x2="527.00" y2="1181.00" stroke="#333" stroke-width="1.5"/>
<text x="527.00" y="1201.60" font-size="22" text-anchor="middle" fill="#000" >1000</text>
<line x1="163.58" y1="1175.00" x2="163.58" y2="1178.00" stroke="#333" stroke-width="1.5"/>
<line x1="244.34" y1="1175.00" x2="244.34" y2="1178.00" stroke="#333" stroke-width="1.5"/>
<line x1="325.10" y1="1175.00" x2="325.10" y2="1178.00" stroke="#333" stroke-width="1.5"/>
<line x1="405.86" y1="1175.00" x2="405.86" y2="1178.00" stroke="#333" stroke-width="1.5"/>
<line x1="486.62" y1="1175.00" x2="486.62" y2="1178.00" stroke="#333" stroke-width="1.5"/>
<line x1="83.30" y1="1146.30" x2="77.30" y2="1146.30" stroke="#333" stroke-width="1.5"/>
<text x="73.60" y="1151.50" font-size="22" text-anchor="end" fill="#000" >0</text>
<line x1="83.30" y1="1088.84" x2="77.30" y2="1088.84" stroke="#333" stroke-width="1.5"/>
<text x="73.60" y="1094.04" font-size="22" text-anchor="end" fill="#000" >20</text>
<line x1="83.30" y1="1031.38" x2="77.30" y2="1031.38" stroke="#333" stroke-width="1.5"/>
<text x="73.60" y="1036.58" font-size="22" text-anchor="end" fill="#000" >40</text>
<line x1="83.30" y1="973.92" x2="77.30" y2="973.92" stroke="#333" stroke-width="1.5"/>
<text x="73.60" y="979.12" font-size="22" text-anchor="end" fill="#000" >60</text>
<line x1="83.30" y1="916.46" x2="77.30" y2="916.46" stroke="#333" stroke-width="1.5"/>
<text x="73.60" y="921.66" font-size="22" text-anchor="end" fill="#000" >80</text>
<line x1="83.30" y1="859.00" x2="77.30" y2="859.00" stroke="#333" stroke-width="1.5"/>
<text x="73.60" y="864.20" font-size="22" text-anchor="end" fill="#000" >100</text>
<line x1="83.30" y1="1175.03" x2="80.30" y2="1175.03" stroke="#333" stroke-width="1.5"/>
<line x1="83.30" y1="1117.57" x2="80.30" y2="1117.57" stroke="#333" stroke-width="1.5"/>
<line x1="83.30" y1="1060.11" x2="80.30" y2="1060.11" stroke="#333" stroke-width="1.5"/>
<line x1="83.30" y1="1002.65" x2="80.30" y2="1002.65" stroke="#333" stroke-width="1.5"/>
<line x1="83.30" y1="945.19" x2="80.30" y2="945.19" stroke="#333" stroke-width="1.5"/>
<line x1="83.30" y1="887.73" x2="80.30" y2="887.73" stroke="#333" stroke-width="1.5"/>
<line x1="83.30" y1="830.27" x2="80.30" y2="830.27" stroke="#333" stroke-width="1.5"/>
<text x="37.40" y="1002.20" font-size="25.7" text-anchor="middle" fill="#000" transform="rotate(-90 37.4 1002.2)" >Weight (%)</text>
<text x="315.30" y="1242.00" font-size="26" text-anchor="middle" fill="#000" >T (ºC)</text>
<text x="96.50" y="856.60" font-size="24.6" text-anchor="start" fill="#000" >e<tspan dx="1.5">)</tspan></text>
<line x1="150.80" y1="1043.90" x2="150.80" y2="1046.40" stroke="#555" stroke-width="1.1"/>
<text x="150.80" y="1061.10" font-size="15.5" text-anchor="middle" fill="#000" >0</text>
<line x1="194.00" y1="1043.90" x2="194.00" y2="1046.40" stroke="#555" stroke-width="1.1"/>
<text x="194.00" y="1061.10" font-size="15.5" text-anchor="middle" fill="#000" >200</text>
<line x1="237.20" y1="1043.90" x2="237.20" y2="1046.40" stroke="#555" stroke-width="1.1"/>
<text x="237.20" y="1061.10" font-size="15.5" text-anchor="middle" fill="#000" >400</text>
<line x1="280.40" y1="1043.90" x2="280.40" y2="1046.40" stroke="#555" stroke-width="1.1"/>
<text x="280.40" y="1061.10" font-size="15.5" text-anchor="middle" fill="#000" >600</text>
<line x1="323.60" y1="1043.90" x2="323.60" y2="1046.40" stroke="#555" stroke-width="1.1"/>
<text x="323.60" y="1061.10" font-size="15.5" text-anchor="middle" fill="#000" >800</text>
<line x1="172.40" y1="1043.90" x2="172.40" y2="1045.40" stroke="#555" stroke-width="1.1"/>
<line x1="215.60" y1="1043.90" x2="215.60" y2="1045.40" stroke="#555" stroke-width="1.1"/>
<line x1="258.80" y1="1043.90" x2="258.80" y2="1045.40" stroke="#555" stroke-width="1.1"/>
<line x1="302.00" y1="1043.90" x2="302.00" y2="1045.40" stroke="#555" stroke-width="1.1"/>
<line x1="345.20" y1="1043.90" x2="345.20" y2="1045.40" stroke="#555" stroke-width="1.1"/>
<line x1="150.80" y1="922.20" x2="148.30" y2="922.20" stroke="#555" stroke-width="1.1"/>
<text x="145.80" y="926.20" font-size="15.5" text-anchor="end" fill="#000" >0.0</text>
<line x1="150.80" y1="962.90" x2="148.30" y2="962.90" stroke="#555" stroke-width="1.1"/>
<text x="145.80" y="966.90" font-size="15.5" text-anchor="end" fill="#000" >-0.5</text>
<line x1="150.80" y1="1003.60" x2="148.30" y2="1003.60" stroke="#555" stroke-width="1.1"/>
<text x="145.80" y="1007.60" font-size="15.5" text-anchor="end" fill="#000" >-1.0</text>
<line x1="150.80" y1="1044.30" x2="148.30" y2="1044.30" stroke="#555" stroke-width="1.1"/>
<text x="145.80" y="1048.30" font-size="15.5" text-anchor="end" fill="#000" >-1.5</text>
<line x1="150.80" y1="942.55" x2="149.30" y2="942.55" stroke="#555" stroke-width="1.1"/>
<line x1="150.80" y1="983.25" x2="149.30" y2="983.25" stroke="#555" stroke-width="1.1"/>
<line x1="150.80" y1="1023.95" x2="149.30" y2="1023.95" stroke="#555" stroke-width="1.1"/>
<line x1="150.20" y1="906.30" x2="345.80" y2="906.30" stroke="#999" stroke-width="1.2"/>
<line x1="345.20" y1="905.70" x2="345.20" y2="1044.50" stroke="#bbb" stroke-width="1.2"/>
<line x1="150.20" y1="1043.90" x2="345.80" y2="1043.90" stroke="#555" stroke-width="1.2"/>
<line x1="150.80" y1="905.70" x2="150.80" y2="1044.50" stroke="#555" stroke-width="1.2"/>
<text x="112.40" y="986.30" font-size="18.2" text-anchor="middle" fill="#000" transform="rotate(-90 112.4 986.3)" >DTG (%/ºC)</text>
<text x="248.00" y="1077.90" font-size="18.2" text-anchor="middle" fill="#000" >T (ºC)</text>
<rect x="97.30" y="1123.30" width="82.90" height="46.10" fill="#000"/>
<rect x="93.30" y="1119.30" width="82.90" height="46.10" fill="#fff" stroke="#777" stroke-width="1"/>
<line x1="99.10" y1="1131.50" x2="141.80" y2="1131.50" stroke="#2424ff" stroke-width="1.5"/>
<text x="147.60" y="1138.30" font-size="18.648" text-anchor="start" fill="#000" >CP</text>
<line x1="99.10" y1="1154.70" x2="141.80" y2="1154.70" stroke="#ff10ff" stroke-width="1.5"/>
<text x="147.60" y="1161.50" font-size="18.648" text-anchor="start" fill="#000" >P</text>
<path d="M133.70,858.80 C152.47,859.37 171.23,859.99 190.00,860.50 C208.03,860.99 226.07,861.44 244.10,861.80 C273.07,862.38 302.03,862.20 331.00,863.00 C332.67,863.05 334.33,863.73 336.00,864.10 C339.17,864.81 342.33,864.83 345.50,866.30 C347.63,867.29 349.77,868.70 351.90,873.50 C353.50,877.10 355.10,881.10 356.70,891.10 C357.77,897.76 358.83,906.48 359.90,916.60 C360.70,924.19 361.50,935.11 362.30,942.10 C363.63,953.75 364.97,958.76 366.30,964.50 C368.43,973.69 370.57,975.72 372.70,978.80 C376.40,984.13 380.10,984.66 383.80,986.80 C390.20,990.50 396.60,991.14 403.00,993.20 C412.57,996.29 422.13,999.99 431.70,1002.00 C439.67,1003.67 447.63,1004.33 455.60,1005.10 C464.67,1005.98 473.73,1006.17 482.80,1006.70" fill="none" stroke="#ff10ff" stroke-width="1.4" stroke-linejoin="round" stroke-linecap="round" />
<path d="M133.70,858.60 C152.47,859.07 171.23,859.58 190.00,860.00 C208.03,860.41 226.07,860.78 244.10,861.10 C273.07,861.62 302.03,861.50 331.00,862.30 C332.67,862.35 334.33,863.25 336.00,863.90 C338.63,864.93 341.27,865.23 343.90,867.90 C345.77,869.79 347.63,871.12 349.50,876.70 C350.83,880.68 352.17,884.80 353.50,892.70 C354.57,899.02 355.63,907.52 356.70,916.60 C357.50,923.41 358.30,932.60 359.10,938.90 C360.17,947.31 361.23,953.04 362.30,958.10 C364.17,966.96 366.03,969.00 367.90,972.40 C370.53,977.20 373.17,977.60 375.80,979.60 C381.13,983.65 386.47,984.57 391.80,986.80 C399.77,990.12 407.73,993.19 415.70,995.60 C422.10,997.54 428.50,999.41 434.90,1000.40 C441.80,1001.47 448.70,1001.58 455.60,1002.00 C464.67,1002.56 473.73,1002.73 482.80,1003.10" fill="none" stroke="#2424ff" stroke-width="1.4" stroke-linejoin="round" stroke-linecap="round" />
<path d="M157.00,922.30 C174.57,922.47 192.13,922.80 209.70,922.80 C223.13,922.80 236.57,922.80 250.00,922.80 C252.87,922.80 255.73,923.00 258.60,923.40 C261.07,923.74 263.53,924.63 266.00,927.10 C267.27,928.37 268.53,929.97 269.80,935.70 C270.33,938.11 270.87,946.38 271.40,952.80 C271.93,959.22 272.47,966.18 273.00,974.20 C273.53,982.22 274.07,993.42 274.60,1000.90 C275.13,1008.38 275.67,1019.10 276.20,1019.10 C276.57,1019.10 276.93,1006.99 277.30,1000.90 C277.83,992.04 278.37,983.12 278.90,974.20 C279.43,965.28 279.97,952.89 280.50,947.40 C281.40,938.13 282.30,935.56 283.20,933.50 C284.60,930.30 286.00,929.71 287.40,928.70 C289.90,926.90 292.40,926.00 294.90,926.00 C297.77,926.00 300.63,926.00 303.50,926.00 C306.33,926.00 309.17,926.60 312.00,926.60 C314.50,926.60 317.00,924.93 319.50,924.40 C322.00,923.87 324.50,923.52 327.00,923.40 C332.70,923.13 338.40,923.13 344.10,923.00" fill="none" stroke="#2424ff" stroke-width="1.1" stroke-linejoin="round" stroke-linecap="round" />
<path d="M157.00,922.30 C174.57,922.37 192.13,922.45 209.70,922.50 C223.13,922.54 236.57,922.53 250.00,922.60 C253.57,922.62 257.13,922.87 260.70,923.40 C263.20,923.77 265.70,924.27 268.20,926.00 C269.27,926.74 270.33,928.87 271.40,934.60 C271.93,937.47 272.47,946.20 273.00,952.80 C273.53,959.40 274.07,965.28 274.60,974.20 C275.13,983.12 275.67,995.78 276.20,1006.30 C276.67,1015.50 277.13,1033.50 277.60,1033.50 C278.03,1033.50 278.47,1018.10 278.90,1006.30 C279.23,997.22 279.57,982.88 279.90,974.20 C280.47,959.44 281.03,953.89 281.60,947.40 C282.47,937.47 283.33,934.23 284.20,932.50 C285.63,929.63 287.07,929.19 288.50,928.20 C290.63,926.73 292.77,926.00 294.90,926.00 C297.77,926.00 300.63,926.00 303.50,926.00 C306.33,926.00 309.17,926.60 312.00,926.60 C314.50,926.60 317.00,924.93 319.50,924.40 C322.00,923.87 324.50,923.52 327.00,923.40 C332.70,923.13 338.40,923.13 344.10,923.00" fill="none" stroke="#ff10ff" stroke-width="1.1" stroke-linejoin="round" stroke-linecap="round" />
<line x1="631.00" y1="829.90" x2="1096.00" y2="829.90" stroke="#555" stroke-width="1.6"/>
<line x1="1095.20" y1="829.10" x2="1095.20" y2="1175.30" stroke="#333" stroke-width="1.6"/>
<line x1="631.00" y1="1174.50" x2="1096.00" y2="1174.50" stroke="#444" stroke-width="1.6"/>
<line x1="631.80" y1="829.10" x2="631.80" y2="1175.30" stroke="#333" stroke-width="1.6"/>
<line x1="631.80" y1="1174.50" x2="631.80" y2="1180.50" stroke="#333" stroke-width="1.5"/>
<text x="631.80" y="1201.60" font-size="22" text-anchor="middle" fill="#000" >0</text>
<line x1="689.72" y1="1174.50" x2="689.72" y2="1180.50" stroke="#333" stroke-width="1.5"/>
<text x="689.72" y="1201.60" font-size="22" text-anchor="middle" fill="#000" >50</text>
<line x1="747.65" y1="1174.50" x2="747.65" y2="1180.50" stroke="#333" stroke-width="1.5"/>
<text x="747.65" y="1201.60" font-size="22" text-anchor="middle" fill="#000" >100</text>
<line x1="805.57" y1="1174.50" x2="805.57" y2="1180.50" stroke="#333" stroke-width="1.5"/>
<text x="805.57" y="1201.60" font-size="22" text-anchor="middle" fill="#000" >150</text>
<line x1="863.50" y1="1174.50" x2="863.50" y2="1180.50" stroke="#333" stroke-width="1.5"/>
<text x="863.50" y="1201.60" font-size="22" text-anchor="middle" fill="#000" >200</text>
<line x1="921.42" y1="1174.50" x2="921.42" y2="1180.50" stroke="#333" stroke-width="1.5"/>
<text x="921.42" y="1201.60" font-size="22" text-anchor="middle" fill="#000" >250</text>
<line x1="979.35" y1="1174.50" x2="979.35" y2="1180.50" stroke="#333" stroke-width="1.5"/>
<text x="979.35" y="1201.60" font-size="22" text-anchor="middle" fill="#000" >300</text>
<line x1="1037.28" y1="1174.50" x2="1037.28" y2="1180.50" stroke="#333" stroke-width="1.5"/>
<text x="1037.28" y="1201.60" font-size="22" text-anchor="middle" fill="#000" >350</text>
<line x1="1095.20" y1="1174.50" x2="1095.20" y2="1180.50" stroke="#333" stroke-width="1.5"/>
<text x="1095.20" y="1201.60" font-size="22" text-anchor="middle" fill="#000" >400</text>
<line x1="660.76" y1="1174.50" x2="660.76" y2="1177.50" stroke="#333" stroke-width="1.5"/>
<line x1="718.69" y1="1174.50" x2="718.69" y2="1177.50" stroke="#333" stroke-width="1.5"/>
<line x1="776.61" y1="1174.50" x2="776.61" y2="1177.50" stroke="#333" stroke-width="1.5"/>
<line x1="834.54" y1="1174.50" x2="834.54" y2="1177.50" stroke="#333" stroke-width="1.5"/>
<line x1="892.46" y1="1174.50" x2="892.46" y2="1177.50" stroke="#333" stroke-width="1.5"/>
<line x1="950.39" y1="1174.50" x2="950.39" y2="1177.50" stroke="#333" stroke-width="1.5"/>
<line x1="1008.31" y1="1174.50" x2="1008.31" y2="1177.50" stroke="#333" stroke-width="1.5"/>
<line x1="1066.24" y1="1174.50" x2="1066.24" y2="1177.50" stroke="#333" stroke-width="1.5"/>
<text x="591.80" y="1000.20" font-size="25.7" text-anchor="middle" fill="#000" transform="rotate(-90 591.8 1000.2)" >Heat flow (a. u.)</text>
<text x="863.30" y="1241.50" font-size="26" text-anchor="middle" fill="#000" >T (ºC)</text>
<text x="653.50" y="856.60" font-size="24.6" text-anchor="start" fill="#000" >f<tspan dx="1.5">)</tspan></text>
<text x="569.30" y="856.00" font-size="25" text-anchor="start" fill="#000" >exo</text>
<line x1="619.80" y1="860.30" x2="619.80" y2="840.40" stroke="#777" stroke-width="1.2"/>
<polygon points="619.80,832.40 614.30,843.40 625.30,843.40" fill="#000"/>
<rect x="646.00" y="1121.70" width="82.50" height="46.50" fill="#000"/>
<rect x="642.00" y="1117.70" width="82.50" height="46.50" fill="#fff" stroke="#777" stroke-width="1"/>
<line x1="647.30" y1="1129.90" x2="690.70" y2="1129.90" stroke="#2424ff" stroke-width="1.5"/>
<text x="695.60" y="1136.70" font-size="18.648" text-anchor="start" fill="#000" >CP</text>
<line x1="647.30" y1="1153.40" x2="690.70" y2="1153.40" stroke="#ff10ff" stroke-width="1.5"/>
<text x="695.60" y="1160.20" font-size="18.648" text-anchor="start" fill="#000" >P</text>
<path d="M660.30,924.70 C661.60,926.33 662.90,928.42 664.20,929.60 C665.97,931.20 667.73,932.00 669.50,932.00 C671.87,932.00 674.23,930.56 676.60,929.60 C679.57,928.39 682.53,926.27 685.50,925.20 C689.03,923.93 692.57,923.10 696.10,923.10 C701.43,923.10 706.77,925.19 712.10,926.10 C718.00,927.11 723.90,927.71 729.80,928.80 C738.67,930.44 747.53,932.89 756.40,935.00 C764.27,936.87 772.13,938.53 780.00,940.70 C785.33,942.17 790.67,943.79 796.00,945.50 C801.30,947.20 806.60,948.43 811.90,950.90 C817.23,953.39 822.57,957.39 827.90,960.40 C833.20,963.39 838.50,965.79 843.80,968.90 C849.07,971.99 854.33,979.00 859.60,979.00 C864.60,979.00 869.60,976.43 874.60,975.30 C886.13,972.69 897.67,969.10 909.20,969.10 C920.70,969.10 932.20,969.80 943.70,971.20 C955.23,972.60 966.77,975.31 978.30,980.40 C984.47,983.12 990.63,984.46 996.80,990.30 C1001.40,994.65 1006.00,1001.47 1010.60,1007.60 C1014.43,1012.71 1018.27,1020.50 1022.10,1023.70 C1023.63,1024.98 1025.17,1026.50 1026.70,1026.50 C1028.63,1026.50 1030.57,1021.56 1032.50,1019.10 C1035.20,1015.66 1037.90,1008.80 1040.60,1008.80 C1046.73,1008.80 1052.87,1014.65 1059.00,1018.00 C1071.00,1024.56 1083.00,1033.33 1095.00,1041.00" fill="none" stroke="#2424ff" stroke-width="1.35" stroke-linejoin="round" stroke-linecap="round" />
<path d="M665.10,915.50 C665.10,913.70 664.76,911.72 665.10,910.10 C665.40,908.66 665.74,906.70 666.80,906.20 C668.11,905.58 670.89,908.15 673.00,908.00 C675.32,907.84 677.53,906.12 680.10,904.80 C683.34,903.14 687.28,899.65 690.80,898.60 C693.77,897.71 696.08,897.66 699.60,898.10 C705.21,898.80 713.40,902.49 720.90,904.80 C729.27,907.37 738.61,910.28 747.50,912.80 C756.35,915.31 768.44,918.19 774.10,919.90 C776.79,920.71 777.51,921.11 780.00,921.90 C784.19,923.23 791.95,925.79 797.00,926.90 C800.94,927.77 804.55,927.40 807.70,928.50 C810.50,929.48 812.41,930.83 815.10,932.80 C818.92,935.61 823.37,940.47 827.90,944.50 C832.89,948.94 838.40,954.06 843.80,958.30 C848.98,962.37 854.23,968.89 859.60,969.50 C864.51,970.05 868.48,965.32 874.60,963.30 C883.67,960.30 898.77,956.17 909.20,954.60 C917.58,953.34 923.77,953.06 932.20,953.40 C942.58,953.82 955.90,954.83 966.80,958.00 C977.40,961.08 988.94,965.47 996.80,971.90 C1003.93,977.73 1007.77,986.21 1012.90,993.80 C1018.15,1001.57 1024.36,1017.24 1027.90,1018.00 C1029.24,1018.29 1030.28,1017.07 1031.30,1015.70 C1033.28,1013.02 1033.70,1004.65 1035.90,1000.70 C1037.65,997.57 1039.49,993.77 1042.40,993.30 C1046.47,992.64 1052.54,998.75 1059.00,1003.00 C1068.85,1009.48 1083.00,1020.67 1095.00,1029.50" fill="none" stroke="#ff10ff" stroke-width="1.35" stroke-linejoin="round" stroke-linecap="round" />
<line x1="1025.60" y1="1026.50" x2="1004.10" y2="1047.90" stroke="#2424ff" stroke-width="0.9"/>
<line x1="1031.30" y1="1019.60" x2="1067.10" y2="1059.50" stroke="#ff10ff" stroke-width="0.9"/>
<text x="957.00" y="1055.50" font-size="18.2" text-anchor="start" fill="#2424ff" >340.3</text>
<text x="1016.00" y="1075.60" font-size="18.8" text-anchor="start" fill="#ff10ff" >343.0 <tspan dx="1.2">º</tspan>C</text>
</svg></body></html>
